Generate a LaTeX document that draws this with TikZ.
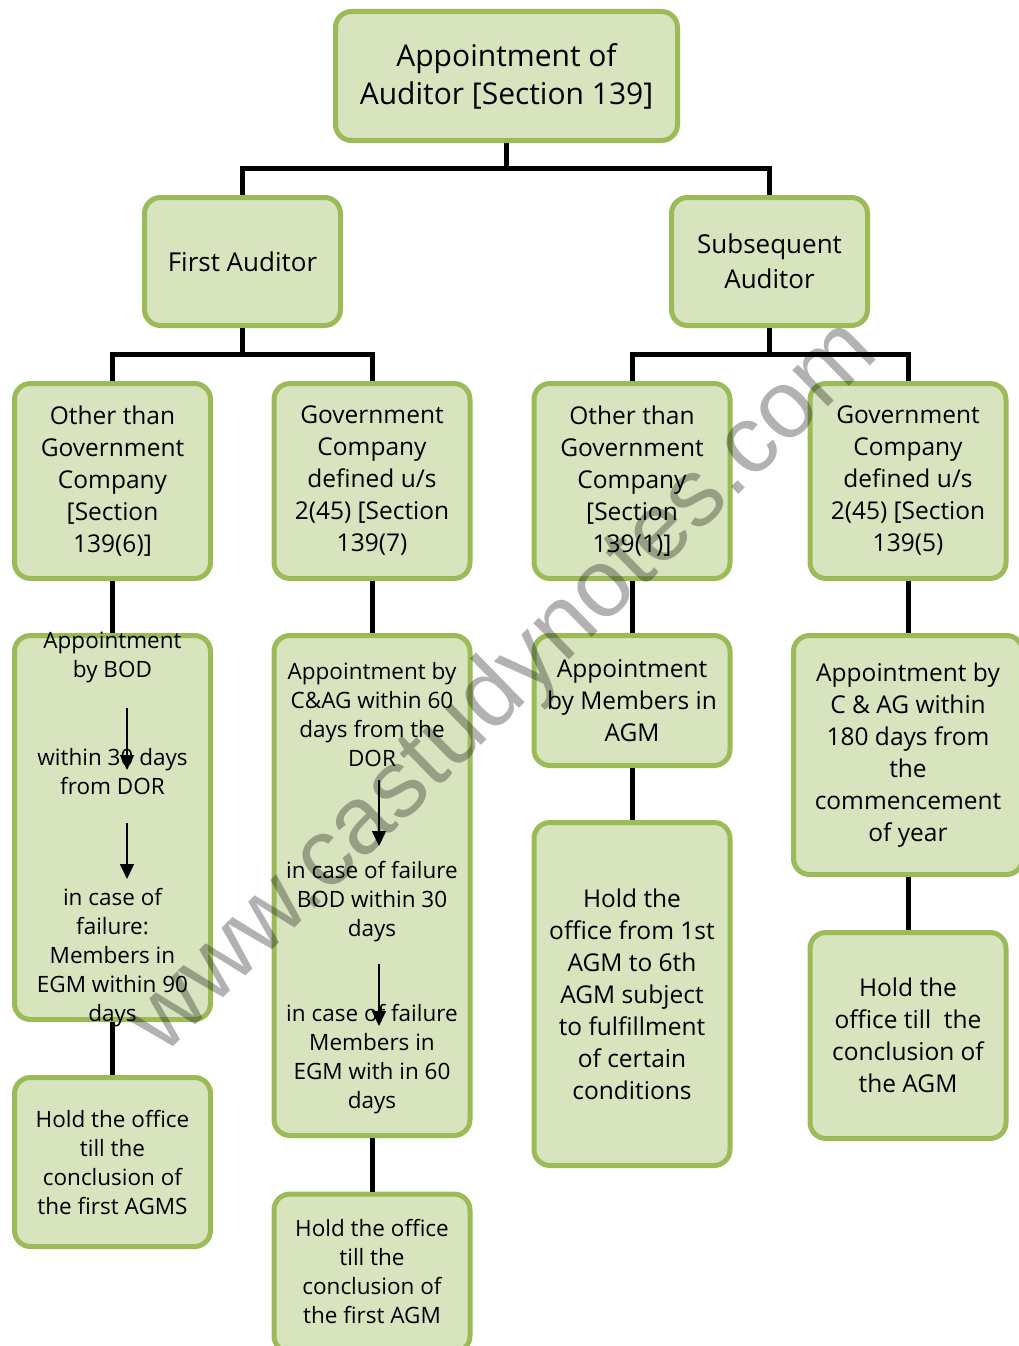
\documentclass[tikz,border=0pt]{standalone}
\usepackage{fontspec}
\setmainfont{Open Sans}
\setsansfont{Liberation Sans}
\usetikzlibrary{arrows.meta}
\definecolor{boxline}{HTML}{9BBB59}
\definecolor{boxfill}{HTML}{D7E4BD}
\tikzset{
  box/.style={draw=boxline, line width=5pt, fill=boxfill, rounded corners=16pt,
    inner sep=0pt, align=center, anchor=center},
  conn/.style={line width=5pt, black},
  inarrow/.style={line width=1.6pt, -{Triangle[length=15pt,width=14pt]}},
  txt/.style={align=center, inner sep=0pt},
  fA/.style={font=\fontsize{30}{38}\selectfont},
  fB/.style={font=\fontsize{26}{35}\selectfont},
  fC/.style={font=\fontsize{24.5}{32}\selectfont},
  fD/.style={font=\fontsize{22.5}{29}\selectfont},
  wmark/.style={font=\sffamily\fontsize{96}{96}\selectfont, text=black, text opacity=0.3, rotate=44.3, inner sep=0pt}
}
\begin{document}
\begin{tikzpicture}[x=1pt,y=-1pt]
\useasboundingbox (0,0) rectangle (1019,1346);
% level 1
\node[box, fA, minimum width=342, minimum height=129] (root) at (506.5,76) {Appointment of\\Auditor {[}Section 139{]}};
% level 2
\node[box, fB, minimum width=196, minimum height=128] (first) at (242.5,261.5) {First Auditor};
\node[box, fB, minimum width=196, minimum height=128] (subs) at (769.5,261.5) {Subsequent\\Auditor};
% level 3
\node[box, fC, minimum width=196, minimum height=195] (oa) at (112.5,481) {Other than\\Government\\Company\\{[}Section\\139(6){]}};
\node[box, fC, minimum width=196, minimum height=195] (ga) at (372,481) {Government\\Company\\defined u/s\\2(45) {[}Section\\139(7)};
\node[box, fC, minimum width=196, minimum height=195] (ob) at (632,481) {Other than\\Government\\Company\\{[}Section\\139(1){]}};
\node[box, fC, minimum width=196, minimum height=195] (gb) at (908,481) {Government\\Company\\defined u/s\\2(45) {[}Section\\139(5)};
% level 4
\node[box, minimum width=196, minimum height=384] (oa4) at (112.5,827.5) {};
\node[txt, fD] (oa4a) at (112.5,657) {Appointment\\by BOD};
\node[txt, fD] (oa4b) at (112.5,771.5) {within 30 days\\from DOR};
\node[txt, fD] (oa4c) at (112.5,958) {in case of\\failure:\\Members in\\EGM within 90\\days};
\coordinate (oa4s1) at (127,708);
\coordinate (oa4e1) at (127,770);
\coordinate (oa4s2) at (127,823);
\coordinate (oa4e2) at (127,879);
\draw[inarrow] (oa4s1) -- (oa4e1);
\draw[inarrow] (oa4s2) -- (oa4e2);

\node[box, minimum width=196, minimum height=500] (ga4) at (372,885.5) {};
\node[txt, fD] (ga4a) at (372,715) {Appointment by\\C\&AG within 60\\days from the\\DOR};
\node[txt, fD] (ga4b) at (372,902) {in case of failure\\BOD within 30\\days};
\node[txt, fD] (ga4c) at (372,1059.5) {in case of failure\\Members in\\EGM with in 60\\days};
\coordinate (ga4s1) at (379,780);
\coordinate (ga4e1) at (379,846);
\coordinate (ga4s2) at (379,964);
\coordinate (ga4e2) at (379,1026);
\draw[inarrow] (ga4s1) -- (ga4e1);
\draw[inarrow] (ga4s2) -- (ga4e2);

\node[box, fC, minimum width=196, minimum height=130] (ob4) at (632,700.5) {Appointment\\by Members in\\AGM};
\node[box, fC, minimum width=229, minimum height=239] (gb4) at (908,755) {Appointment by\\C \& AG within\\180 days from\\the\\commencement\\of year};
% level 5
\node[box, fD, minimum width=196, minimum height=169] (oa5) at (112.5,1162) {Hold the office\\till the\\conclusion of\\the first AGMS};
\node[box, fD, minimum width=196, minimum height=158] (ga5) at (372,1273) {};
\node[txt, fD] (ga5t) at (372,1271) {Hold the office\\till the\\conclusion of\\the first AGM};
\node[box, fC, minimum width=196, minimum height=343] (ob5) at (632,994) {Hold the\\office from 1st\\AGM to 6th\\AGM subject\\to fulfillment\\of certain\\conditions};
\node[box, fC, minimum width=196, minimum height=206] (gb5) at (908,1035.5) {Hold the\\office till\ \ the\\conclusion of\\the AGM};
% connectors
\draw[conn] (root.south) -- ++(0,25) -| (first.north);
\draw[conn] (root.south) -- ++(0,25) -| (subs.north);
\draw[conn] (first.south) -- ++(0,26) -| (oa.north);
\draw[conn] (first.south) -- ++(0,26) -| (ga.north);
\draw[conn] (subs.south) -- ++(0,26) -| (ob.north);
\draw[conn] (subs.south) -- ++(0,26) -| (gb.north);
\draw[conn] (oa.south) -- (oa4.north);
\draw[conn] (ga.south) -- (ga4.north);
\draw[conn] (ob.south) -- (ob4.north);
\draw[conn] (gb.south) -- (gb4.north);
\draw[conn] (oa4.south) -- (oa5.north);
\draw[conn] (ga4.south) -- (ga5.north);
\draw[conn] (ob4.south) -- (ob5.north);
\draw[conn] (gb4.south) -- (gb5.north);
% watermark
\node[wmark] (wm) at (505,688) {www.castudynotes.com};
\end{tikzpicture}
\end{document}
